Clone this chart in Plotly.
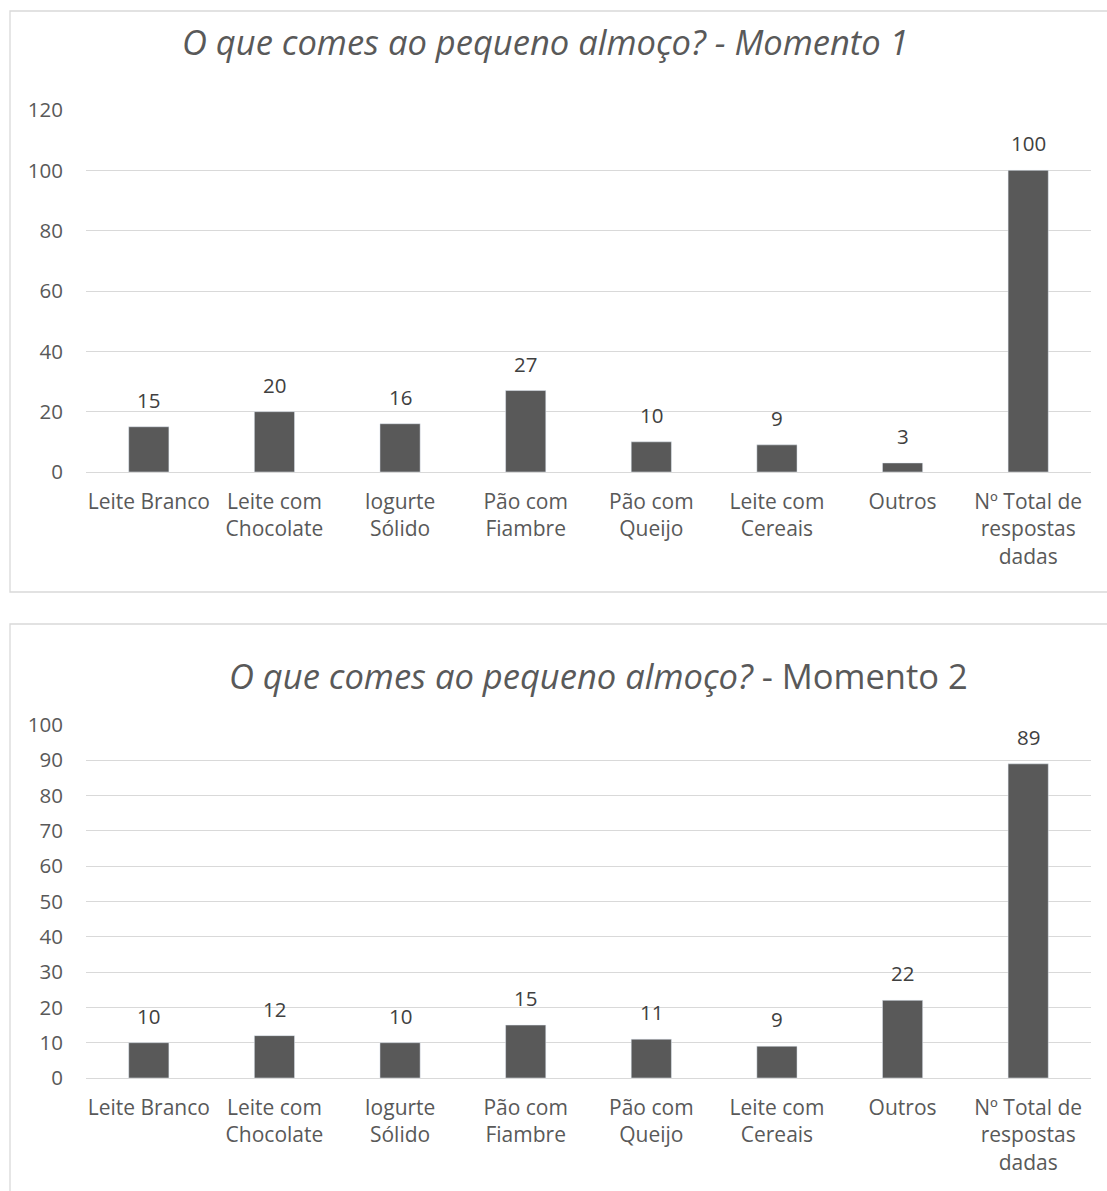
import plotly.graph_objects as go

categories = ["Leite Branco", "Leite com<br>Chocolate", "Iogurte<br>Sólido", "Pão com<br>Fiambre",
              "Pão com<br>Queijo", "Leite com<br>Cereais", "Outros", "Nº Total de<br>respostas<br>dadas"]
momento1 = [15, 20, 16, 27, 10, 9, 3, 100]
momento2 = [10, 12, 10, 15, 11, 9, 22, 89]
title1 = "<i>O que comes ao pequeno almoço? - Momento 1</i>"
title2 = "<i>O que comes ao pequeno almoço?</i> - Momento 2"

W, H = 1107, 1191
FONT = "Open Sans"
TXT = "#595959"
GRID = "#d9d9d9"
BAR = "#595959"

def py(px):
    return 1 - px / H

def px_x(px):
    return px / W

fig = go.Figure()
fig.add_trace(go.Bar(x=categories, y=momento1, marker_color=BAR, width=0.32,
                     xaxis="x", yaxis="y", hoverinfo="skip"))
fig.add_trace(go.Bar(x=categories, y=momento2, marker_color=BAR, width=0.32,
                     xaxis="x2", yaxis="y2", hoverinfo="skip"))

xcommon = dict(showgrid=False, showline=False, zeroline=False, ticks="", automargin=False,
               tickfont=dict(family=FONT, size=21, color=TXT), tickangle=0,
               domain=[px_x(86), px_x(1091)], ticklabelstandoff=15)
ycommon = dict(showgrid=True, gridcolor=GRID, gridwidth=1.3, zeroline=True, zerolinecolor=GRID,
               zerolinewidth=1.3, showline=False, ticks="", automargin=False,
               tickfont=dict(family=FONT, size=20.5, color=TXT), ticklabelstandoff=22)

annotations = [
    dict(text=title1, xref="paper", yref="paper", x=px_x(545), y=py(42), showarrow=False,
         font=dict(family=FONT, size=34.5, color=TXT), xanchor="center", yanchor="middle"),
    dict(text=title2, xref="paper", yref="paper", x=px_x(598), y=py(675), showarrow=False,
         font=dict(family=FONT, size=34.5, color=TXT), xanchor="center", yanchor="middle"),
]
for xr, yr, vals in (("x", "y", momento1), ("x2", "y2", momento2)):
    for c, v in zip(categories, vals):
        annotations.append(dict(text=str(v), x=c, y=v, xref=xr, yref=yr, showarrow=False,
                                xanchor="center", yanchor="bottom", yshift=11,
                                font=dict(family=FONT, size=20.5, color="#404040")))

fig.update_layout(
    width=W, height=H, margin=dict(l=0, r=0, t=0, b=0, autoexpand=False),
    paper_bgcolor="white", plot_bgcolor="white", showlegend=False,
    xaxis=dict(**xcommon, anchor="y"),
    yaxis=dict(**ycommon, range=[0, 120], dtick=20, domain=[py(472), py(110)], anchor="x"),
    xaxis2=dict(**xcommon, anchor="y2"),
    yaxis2=dict(**ycommon, range=[0, 100], dtick=10, domain=[py(1078), py(725)], anchor="x2"),
    shapes=[
        dict(type="rect", xref="paper", yref="paper", x0=px_x(10), x1=px_x(1112),
             y0=py(592), y1=py(11), line=dict(color="#d9d9d9", width=1.3), fillcolor="rgba(0,0,0,0)"),
        dict(type="rect", xref="paper", yref="paper", x0=px_x(10), x1=px_x(1112),
             y0=py(1200), y1=py(624), line=dict(color="#d9d9d9", width=1.3), fillcolor="rgba(0,0,0,0)"),
    ],
    annotations=annotations,
)

fig.write_html("out.html")
